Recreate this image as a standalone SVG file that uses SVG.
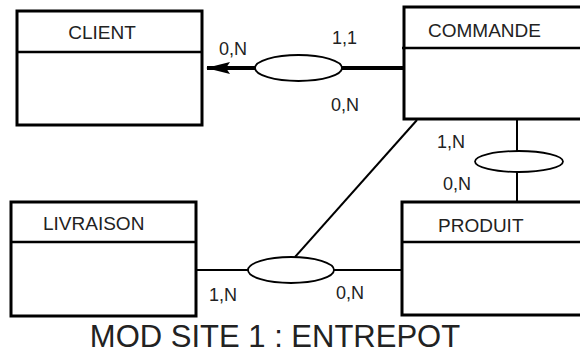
<svg xmlns="http://www.w3.org/2000/svg" width="580" height="354" viewBox="0 0 580 354">
<defs>
<style>
.box{fill:#fff;stroke:#000;stroke-width:3}
.div{stroke:#000;stroke-width:2.5}
.name{font-family:"Liberation Sans",Arial,sans-serif;font-size:19px;fill:#222}
.card{font-family:"Liberation Sans",Arial,sans-serif;font-size:18px;fill:#222}
.rel{fill:#fff;stroke:#000;stroke-width:1.8}
.thin{stroke:#000;stroke-width:2;fill:none}
.thick{stroke:#000;stroke-width:4;fill:none}
</style>
<marker id="arr" markerUnits="userSpaceOnUse" viewBox="0 0 26 14" markerWidth="26" markerHeight="14" refX="24" refY="7" orient="auto" overflow="visible">
<path d="M25,7 L1,1 L5,7 L1,13 Z" fill="#000"/>
</marker>
</defs>
<rect width="580" height="354" fill="#fff"/>
<g id="connectors">
<line class="thick" x1="255" y1="68" x2="207" y2="68" marker-end="url(#arr)"/>
<line class="thick" x1="342" y1="68" x2="404" y2="68"/>
<line class="thin" x1="517" y1="119" x2="517" y2="202"/>
<line class="thin" x1="417" y1="120" x2="295" y2="257"/>
<line class="thin" x1="196" y1="270" x2="248" y2="270"/>
<line class="thin" x1="334" y1="270" x2="402" y2="270"/>
</g>
<g id="client">
<rect class="box" x="17" y="11" width="185" height="114"/>
<line class="div" x1="17" y1="52" x2="202" y2="52"/>
<text class="name" x="102" y="39" text-anchor="middle">CLIENT</text>
</g>
<g id="commande">
<rect class="box" x="404" y="7" width="190" height="112"/>
<line class="div" x1="402" y1="48" x2="594" y2="48"/>
<text class="name" x="428" y="37">COMMANDE</text>
</g>
<g id="livraison">
<rect class="box" x="11" y="202" width="185" height="114"/>
<line class="div" x1="11" y1="242" x2="196" y2="242"/>
<text class="name" x="43" y="230">LIVRAISON</text>
</g>
<g id="produit">
<rect class="box" x="402" y="202" width="192" height="113"/>
<line class="div" x1="402" y1="242" x2="594" y2="242"/>
<text class="name" x="438" y="232">PRODUIT</text>
</g>
<g id="rel-passe">
<ellipse class="rel" cx="298.5" cy="68" rx="43.5" ry="13"/>
</g>
<g id="rel-contient">
<ellipse class="rel" cx="519" cy="161.5" rx="44" ry="10.5"/>
</g>
<g id="rel-livre">
<ellipse class="rel" cx="291" cy="270" rx="43" ry="13"/>
</g>
<g id="cardinalities">
<text class="card" x="219" y="55">0,N</text>
<text class="card" x="332" y="44">1,1</text>
<text class="card" x="331" y="111">0,N</text>
<text class="card" x="437" y="148">1,N</text>
<text class="card" x="443" y="190">0,N</text>
<text class="card" x="209" y="301">1,N</text>
<text class="card" x="336" y="299">0,N</text>
</g>
<text x="275" y="347" text-anchor="middle" font-family="Liberation Sans, Arial, sans-serif" font-size="31" fill="#222">MOD SITE 1 : ENTREPOT</text>
</svg>
